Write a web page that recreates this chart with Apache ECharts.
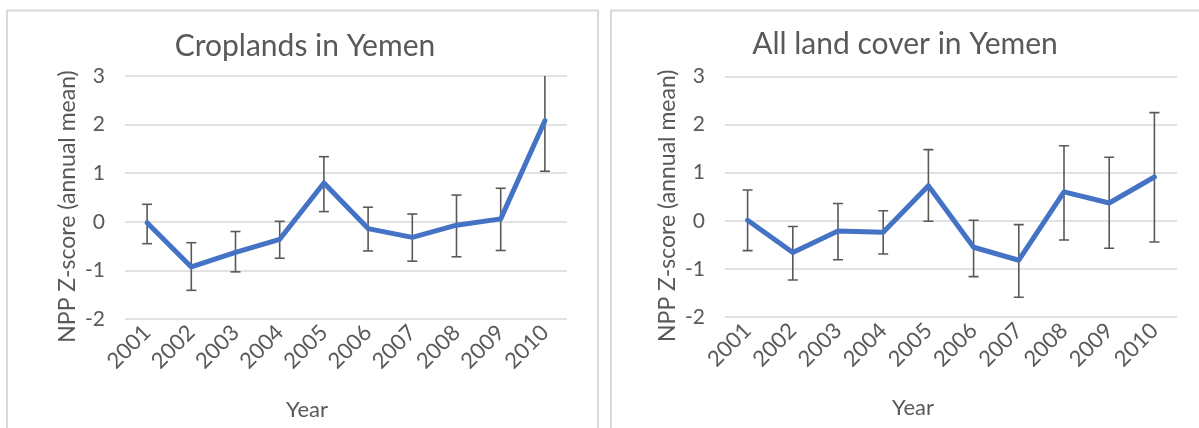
<!DOCTYPE html>
<html>
<head>
<meta charset="utf-8">
<script src="https://cdn.jsdelivr.net/npm/echarts@6/dist/echarts.min.js"></script>
<style>
  html, body { margin: 0; padding: 0; background: #ffffff; }
  #chart { width: 1199px; height: 428px; }
</style>
</head>
<body>
<div id="chart"></div>
<script>
// Years on the horizontal axis
const years = ['2001', '2002', '2003', '2004', '2005', '2006', '2007', '2008', '2009', '2010'];

// Croplands: annual mean NPP z-score with error-bar bounds
const cropMean  = [-0.02, -0.93, -0.63, -0.36, 0.80, -0.14, -0.32, -0.07, 0.06, 2.08];
const cropUpper = [0.36, -0.43, -0.20, 0.01, 1.34, 0.30, 0.16, 0.55, 0.69, 3.08];
const cropLower = [-0.45, -1.41, -1.03, -0.75, 0.21, -0.60, -0.81, -0.72, -0.59, 1.04];

// All land cover: annual mean NPP z-score with error-bar bounds
const allMean  = [0.01, -0.66, -0.21, -0.24, 0.73, -0.55, -0.82, 0.60, 0.37, 0.91];
const allUpper = [0.64, -0.12, 0.36, 0.21, 1.48, 0.01, -0.08, 1.56, 1.32, 2.25];
const allLower = [-0.62, -1.23, -0.81, -0.69, -0.01, -1.16, -1.59, -0.40, -0.57, -0.44];

// Value axis range
const yMin = -2;
const yMax = 3;
const yStep = 1;

const FONT = 'Lato, "Open Sans", sans-serif';
const TEXT = '#595959';
const GRID_LINE = '#d9d9d9';
const LINE_BLUE = '#4472C4';
const BAR_GREY = '#595959';

function errorData(lower, upper) {
  return years.map((y, i) => [i, lower[i], upper[i]]);
}

// Vertical whisker with short caps at both ends
function renderErrorBar(params, api) {
  const idx = api.value(0);
  const lo = api.coord([idx, api.value(1)]);
  const hi = api.coord([idx, api.value(2)]);
  const half = 5;
  const style = { stroke: BAR_GREY, lineWidth: 1.6 };
  return {
    type: 'group',
    children: [
      { type: 'line', shape: { x1: hi[0], y1: hi[1], x2: lo[0], y2: lo[1] }, style },
      { type: 'line', shape: { x1: hi[0] - half, y1: hi[1], x2: hi[0] + half, y2: hi[1] }, style },
      { type: 'line', shape: { x1: lo[0] - half, y1: lo[1], x2: lo[0] + half, y2: lo[1] }, style }
    ]
  };
}

function xAxis(gridIndex, yearShift) {
  return {
    type: 'category',
    gridIndex,
    data: years,
    boundaryGap: true,
    axisLine: { show: false },
    axisTick: { show: false },
    axisLabel: { rotate: 45, color: TEXT, fontFamily: FONT, fontSize: 22, margin: 10 },
    name: 'Year',
    nameLocation: 'middle',
    nameGap: 80,
    nameTextStyle: { color: TEXT, fontFamily: FONT, fontSize: 22, padding: [0, yearShift, 0, 0] }
  };
}

function yAxis(gridIndex) {
  return {
    type: 'value',
    gridIndex,
    min: yMin,
    max: yMax,
    interval: yStep,
    axisLine: { show: false },
    axisTick: { show: false },
    splitLine: { lineStyle: { color: GRID_LINE, width: 1.5 } },
    axisLabel: { color: TEXT, fontFamily: FONT, fontSize: 21, margin: 20 },
    name: 'NPP Z-score (annual mean)',
    nameLocation: 'middle',
    nameRotate: 90,
    nameGap: 46,
    nameTextStyle: { color: TEXT, fontFamily: FONT, fontSize: 23, padding: [0, 18, 0, 0] }
  };
}

const chart = echarts.init(document.getElementById('chart'), null, { renderer: 'canvas' });

chart.setOption({
  animation: false,
  backgroundColor: '#ffffff',
  graphic: [
    { type: 'rect', shape: { x: 7, y: 10.5, width: 591, height: 440 }, style: { fill: 'none', stroke: GRID_LINE, lineWidth: 2 }, silent: true },
    { type: 'rect', shape: { x: 611, y: 10.5, width: 620, height: 440 }, style: { fill: 'none', stroke: GRID_LINE, lineWidth: 2 }, silent: true }
  ],
  title: [
    { text: 'Croplands in Yemen', left: 300, top: 26, textAlign: 'center',
      textStyle: { color: TEXT, fontFamily: FONT, fontSize: 30, fontWeight: 'normal' } },
    { text: 'All land cover in Yemen', left: 900, top: 24, textAlign: 'center',
      textStyle: { color: TEXT, fontFamily: FONT, fontSize: 30, fontWeight: 'normal' } }
  ],
  grid: [
    { left: 125, right: 632, top: 76, bottom: 109 },
    { left: 725, right: 22, top: 76.5, bottom: 111 }
  ],
  xAxis: [xAxis(0, 78), xAxis(1, 76)],
  yAxis: [yAxis(0), yAxis(1)],
  series: [
    { type: 'custom', xAxisIndex: 0, yAxisIndex: 0, data: errorData(cropLower, cropUpper),
      renderItem: renderErrorBar, clip: true, z: 1, silent: true },
    { type: 'line', xAxisIndex: 0, yAxisIndex: 0, data: cropMean, symbol: 'none', z: 2,
      lineStyle: { color: LINE_BLUE, width: 5, join: 'round', cap: 'round' } },
    { type: 'custom', xAxisIndex: 1, yAxisIndex: 1, data: errorData(allLower, allUpper),
      renderItem: renderErrorBar, clip: true, z: 1, silent: true },
    { type: 'line', xAxisIndex: 1, yAxisIndex: 1, data: allMean, symbol: 'none', z: 2,
      lineStyle: { color: LINE_BLUE, width: 5, join: 'round', cap: 'round' } }
  ]
});
</script>
</body>
</html>
